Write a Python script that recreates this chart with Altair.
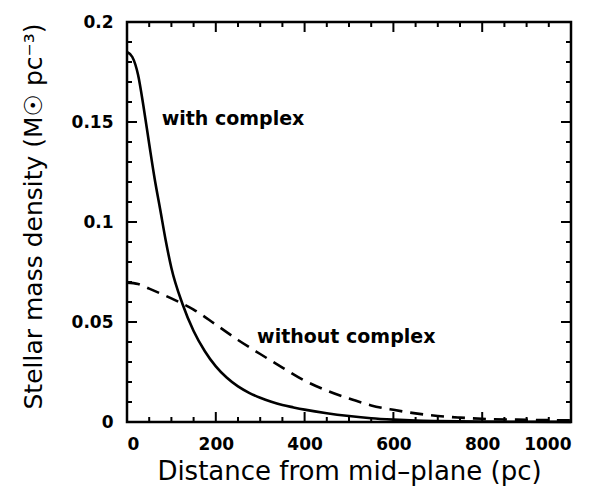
import altair as alt
import pandas as pd

# Curve readings (distance in pc, density in Msun/pc^3)
x_with = [0, 12, 25, 37, 50, 62, 75, 87, 100, 125, 150, 175, 200, 225, 250, 275, 300, 325, 350, 375, 400, 450, 500, 550, 600, 650, 700, 800, 900, 1000]
y_with = [0.185, 0.1825, 0.1735, 0.158, 0.139, 0.122, 0.106, 0.091, 0.077, 0.059, 0.0455, 0.0355, 0.0278, 0.0221, 0.0178, 0.0146, 0.0121, 0.0101, 0.0085, 0.0073, 0.0062, 0.0044, 0.003, 0.0019, 0.0012, 0.0007, 0.00045, 0.0002, 0.0001, 0.00005]

x_without = [0, 25, 50, 100, 150, 200, 250, 300, 350, 400, 450, 500, 550, 600, 650, 700, 750, 800, 900, 1000]
y_without = [0.0697, 0.069, 0.0667, 0.0618, 0.0562, 0.0487, 0.041, 0.034, 0.0272, 0.0207, 0.0157, 0.0117, 0.0083, 0.0061, 0.0043, 0.003, 0.0022, 0.0016, 0.0011, 0.0008]

labels_text = ["with complex", "without complex"]
labels_x = [78, 293]
labels_y = [0.1515, 0.0425]

x_ticks_major = [0, 200, 400, 600, 800, 1000]
x_ticks_minor = [50, 100, 150, 250, 300, 350, 450, 500, 550, 650, 700, 750, 850, 900, 950]
y_ticks_major = [0.0, 0.05, 0.1, 0.15, 0.2]
y_ticks_minor = [0.01, 0.02, 0.03, 0.04, 0.06, 0.07, 0.08, 0.09, 0.11, 0.12, 0.13, 0.14, 0.16, 0.17, 0.18, 0.19]

W, H = 444, 400

df_with = pd.DataFrame({"x": x_with, "y": y_with})
df_without = pd.DataFrame({"x": x_without, "y": y_without})
df_lab = pd.DataFrame({"x": labels_x, "y": labels_y, "t": labels_text})
df_xmaj = pd.DataFrame({"v": x_ticks_major})
df_xmin = pd.DataFrame({"v": x_ticks_minor})
df_ymaj = pd.DataFrame({"v": y_ticks_major})
df_ymin = pd.DataFrame({"v": y_ticks_minor})

xs = alt.Scale(domain=[0, 1000], nice=False, zero=False)
ys = alt.Scale(domain=[0, 0.2], nice=False, zero=False)

x_axis = alt.Axis(
    values=x_ticks_major, ticks=False, domain=False, grid=False, format="d",
    labelFont="DejaVu Sans", labelFontWeight="bold", labelFontSize=17,
    labelColor="black", labelPadding=14,
    title="Distance from mid\u2013plane (pc)", titleFont="DejaVu Sans",
    titleFontSize=26, titleFontWeight="normal", titleColor="black",
    titleBaseline="middle", titleY=49, titleX=W / 2,
)
y_axis = alt.Axis(
    values=y_ticks_major, ticks=False, domain=False, grid=False, format="~g",
    labelFont="DejaVu Sans", labelFontWeight="bold", labelFontSize=17,
    labelColor="black", labelPadding=14,
    title="Stellar mass density (M\u2609  pc\u207b\u00b3)", titleFont="DejaVu Sans",
    titleFontSize=25, titleFontWeight="normal", titleColor="black",
    titleAngle=-90, titleBaseline="middle", titleX=-94, titleY=194, titleAlign="center",
)

line_with = alt.Chart(df_with).mark_line(
    color="black", strokeWidth=2.6, interpolate="monotone"
).encode(
    x=alt.X("x:Q", scale=xs, axis=x_axis),
    y=alt.Y("y:Q", scale=ys, axis=y_axis),
)

line_without = alt.Chart(df_without).mark_line(
    color="black", strokeWidth=2.6, strokeDash=[13, 8], interpolate="monotone"
).encode(
    x=alt.X("x:Q", scale=xs),
    y=alt.Y("y:Q", scale=ys),
)

texts = alt.Chart(df_lab).mark_text(
    align="left", baseline="middle", font="DejaVu Sans", fontWeight="bold",
    fontSize=19, color="black"
).encode(
    x=alt.X("x:Q", scale=xs),
    y=alt.Y("y:Q", scale=ys),
    text="t:N",
)

def xticks(df, length):
    bottom = alt.Chart(df).mark_rule(color="black", strokeWidth=2).encode(
        x=alt.X("v:Q", scale=xs), y=alt.value(H), y2=alt.value(H - length))
    top = alt.Chart(df).mark_rule(color="black", strokeWidth=2).encode(
        x=alt.X("v:Q", scale=xs), y=alt.value(0), y2=alt.value(length))
    return [bottom, top]

def yticks(df, length):
    left = alt.Chart(df).mark_rule(color="black", strokeWidth=2).encode(
        y=alt.Y("v:Q", scale=ys), x=alt.value(0), x2=alt.value(length))
    right = alt.Chart(df).mark_rule(color="black", strokeWidth=2).encode(
        y=alt.Y("v:Q", scale=ys), x=alt.value(W), x2=alt.value(W - length))
    return [left, right]

tick_layers = xticks(df_xmaj, 10) + xticks(df_xmin, 5) + yticks(df_ymaj, 10) + yticks(df_ymin, 5)

chart = alt.layer(
    line_with, line_without, texts, *tick_layers
).properties(
    width=W, height=H,
    autosize=alt.AutoSizeParams(type="none"),
    padding={"left": 119, "top": 14, "right": 16, "bottom": 65},
    background="white",
).configure_view(
    stroke="black", strokeWidth=2.5
)

chart.save("out.html", embed_options={"renderer": "svg", "actions": False})
